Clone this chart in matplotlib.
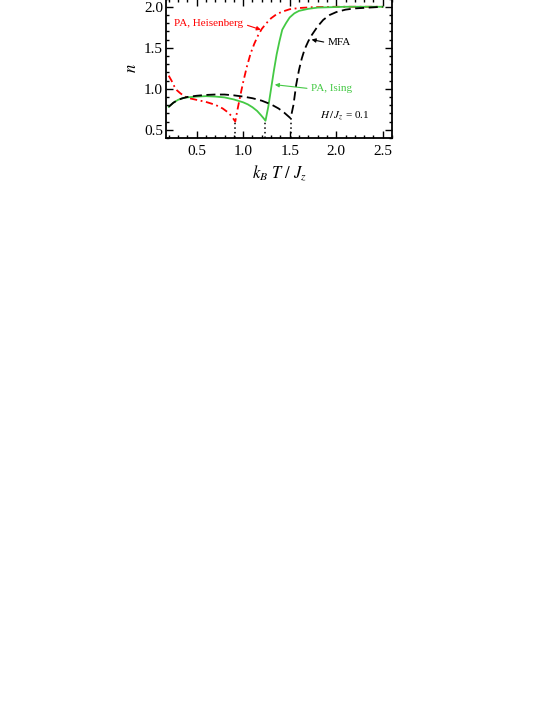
import matplotlib
matplotlib.use('Agg')
import matplotlib.pyplot as plt
from matplotlib.ticker import MultipleLocator

plt.rcParams['font.family'] = 'serif'
plt.rcParams['font.serif'] = ['Liberation Serif', 'DejaVu Serif']
plt.rcParams['mathtext.fontset'] = 'stix'

# PA, Heisenberg (red dash-dot)
heis_T = [0.20, 0.23, 0.26, 0.29, 0.32, 0.36, 0.40, 0.50, 0.60, 0.70, 0.78, 0.84, 0.88, 0.915,
          0.94, 0.97, 1.00, 1.04, 1.08, 1.12, 1.16, 1.20, 1.25, 1.30, 1.36, 1.42, 1.50, 1.60,
          1.75, 2.00, 2.25, 2.50]
heis_n = [1.16, 1.10, 1.03, 0.98, 0.95, 0.915, 0.89, 0.865, 0.84, 0.805, 0.76, 0.71, 0.66, 0.60,
          0.75, 0.92, 1.08, 1.27, 1.43, 1.55, 1.65, 1.73, 1.80, 1.86, 1.91, 1.94, 1.97, 1.985,
          1.995, 2.0, 2.0, 2.0]

# PA, Ising (green solid)
ising_T = [0.20, 0.25, 0.30, 0.35, 0.40, 0.50, 0.60, 0.70, 0.80, 0.90, 1.00, 1.05, 1.10, 1.15,
           1.19, 1.22, 1.24, 1.27, 1.30, 1.33, 1.36, 1.39, 1.42, 1.46, 1.50, 1.55, 1.60, 1.70,
           1.80, 1.95, 2.10, 2.50]
ising_n = [0.78, 0.83, 0.865, 0.885, 0.895, 0.905, 0.91, 0.905, 0.895, 0.87, 0.835, 0.81, 0.775,
           0.73, 0.68, 0.64, 0.61, 0.78, 1.00, 1.22, 1.42, 1.58, 1.72, 1.80, 1.87, 1.92, 1.95,
           1.975, 1.99, 1.995, 2.0, 2.0]

# MFA (black dashed)
mfa_T = [0.20, 0.25, 0.30, 0.35, 0.40, 0.50, 0.60, 0.70, 0.80, 0.90, 1.00, 1.10, 1.20, 1.30,
         1.38, 1.44, 1.48, 1.51, 1.54, 1.57, 1.60, 1.63, 1.66, 1.70, 1.74, 1.80, 1.86, 1.93,
         2.00, 2.10, 2.20, 2.35, 2.50]
mfa_n = [0.78, 0.83, 0.865, 0.885, 0.90, 0.915, 0.925, 0.93, 0.93, 0.92, 0.905, 0.885, 0.855,
         0.81, 0.76, 0.71, 0.67, 0.64, 0.80, 1.05, 1.23, 1.37, 1.48, 1.58, 1.66, 1.76, 1.84,
         1.90, 1.935, 1.965, 1.98, 1.99, 2.0]

# critical temperatures (dotted drop lines)
tc_T = [0.915, 1.24, 1.51]
tc_n = [0.60, 0.61, 0.64]

green = '#44c944'

fig = plt.figure(figsize=(5.53, 7.15), dpi=100)
ax = fig.add_axes([0.300, 0.807, 0.409, 0.195])

ax.plot(heis_T, heis_n, color='red', lw=1.3, dashes=(4, 2, 1, 2))
ax.plot(ising_T, ising_n, color=green, lw=1.3)
ax.plot(mfa_T, mfa_n, color='black', lw=1.3, dashes=(5, 2.5))
for t, n in zip(tc_T, tc_n):
    ax.plot([t, t], [0.4, n], color='black', lw=1.1, ls=(0, (1, 2)))

ax.set_xlim(0.17, 2.6)
ax.set_ylim(0.4, 2.1)
ax.xaxis.set_major_locator(MultipleLocator(0.5))
ax.xaxis.set_minor_locator(MultipleLocator(0.1))
ax.yaxis.set_major_locator(MultipleLocator(0.5))
ax.yaxis.set_minor_locator(MultipleLocator(0.1))
ax.tick_params(which='both', direction='in', top=True, right=True, labelsize=11, width=1.0)
ax.tick_params(which='major', length=5)
ax.tick_params(which='minor', length=2.5)
ax.tick_params(axis='x', which='major', pad=5)
ax.tick_params(axis='y', which='major', pad=2)
for s in ax.spines.values():
    s.set_linewidth(1.3)

ax.set_xlabel(r'$k_B\ T\ /\ J_z$', fontsize=12, labelpad=4)
ax.set_ylabel(r'$n$', fontsize=12, labelpad=3)

arr = dict(arrowstyle='-|>', lw=0.8, mutation_scale=6, shrinkA=1, shrinkB=0, relpos=(1, 0.5))
ax.annotate('PA, Heisenberg', xy=(1.19, 1.72), xytext=(0.26, 1.79), color='red', fontsize=8,
            va='center', ha='left', arrowprops=dict(arr, color='red'))
arr2 = dict(arr, relpos=(0, 0.5))
ax.annotate('MFA', xy=(1.735, 1.60), xytext=(1.91, 1.56), color='black', fontsize=8,
            va='center', ha='left', arrowprops=dict(arr2, color='black'))
ax.annotate('PA, Ising', xy=(1.34, 1.05), xytext=(1.73, 1.0), color=green, fontsize=8,
            va='center', ha='left', arrowprops=dict(arr2, color=green))
ax.text(1.83, 0.68, r'$H\,/\,J_z$ = 0.1', fontsize=8, va='center', ha='left')

fig.savefig('out.png', dpi=100)
